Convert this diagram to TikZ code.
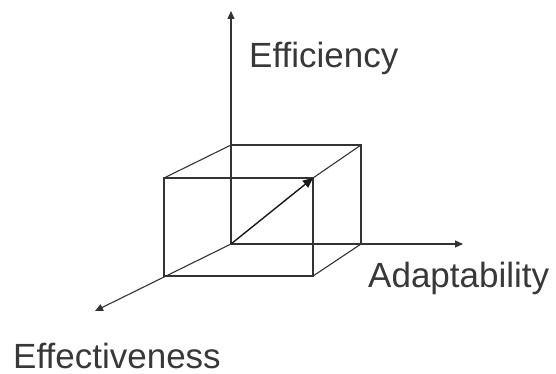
\documentclass[tikz,border=0pt]{standalone}
\usepackage{fontspec}
\setmainfont{Liberation Sans}
\usetikzlibrary{arrows.meta}
\tikzset{
  axis/.style  ={-{Triangle[length=8pt, width=7pt]}, line width=1.1pt,
                 black!80},
  edge/.style  ={line width=1.1pt, black!80},
  diag/.style  ={-{Triangle[length=10pt, width=9pt]}, line width=1.4pt,
                 black!90},
  lbl/.style   ={font=\fontsize{35}{40}\selectfont, text=black!78,
                 inner sep=0pt, anchor=base west},
}

\begin{document}
\begin{tikzpicture}[x=1pt, y=-1pt]
  \useasboundingbox (0,0) rectangle (556,374);
  % corners of the box, origin = back bottom left
  \coordinate (o)   at (231,244);
  \coordinate (btl) at (231,145);
  \coordinate (btr) at (361,145);
  \coordinate (bbr) at (361,244);
  \coordinate (ftl) at (164,178);
  \coordinate (ftr) at (313,178);
  \coordinate (fbr) at (313,276);
  \coordinate (fbl) at (164,276);
  % axis ends
  \coordinate (effy) at (231,11);
  \coordinate (adap) at (463,244);
  \coordinate (effv) at (95,311);
  % box
  \draw[edge] (ftl) -- (ftr) -- (fbr) -- (fbl) -- cycle;
  \draw[edge] (btl) -- (btr) -- (bbr);
  \draw[edge] (ftl) -- (btl);
  \draw[edge] (ftr) -- (btr);
  \draw[edge] (fbr) -- (bbr);
  % axes
  \draw[axis] (o) -- (effy);
  \draw[axis] (o) -- (adap);
  \draw[axis] (o) -- (effv);
  \draw[diag] (o) -- (ftr);
  % labels
  \node[lbl] (leffy) at (249,68)  {Efficiency};
  \node[lbl] (ladap) at (368,287) {Adaptability};
  \node[lbl] (leffv) at (13,368)  {Effectiveness};
\end{tikzpicture}
\end{document}
